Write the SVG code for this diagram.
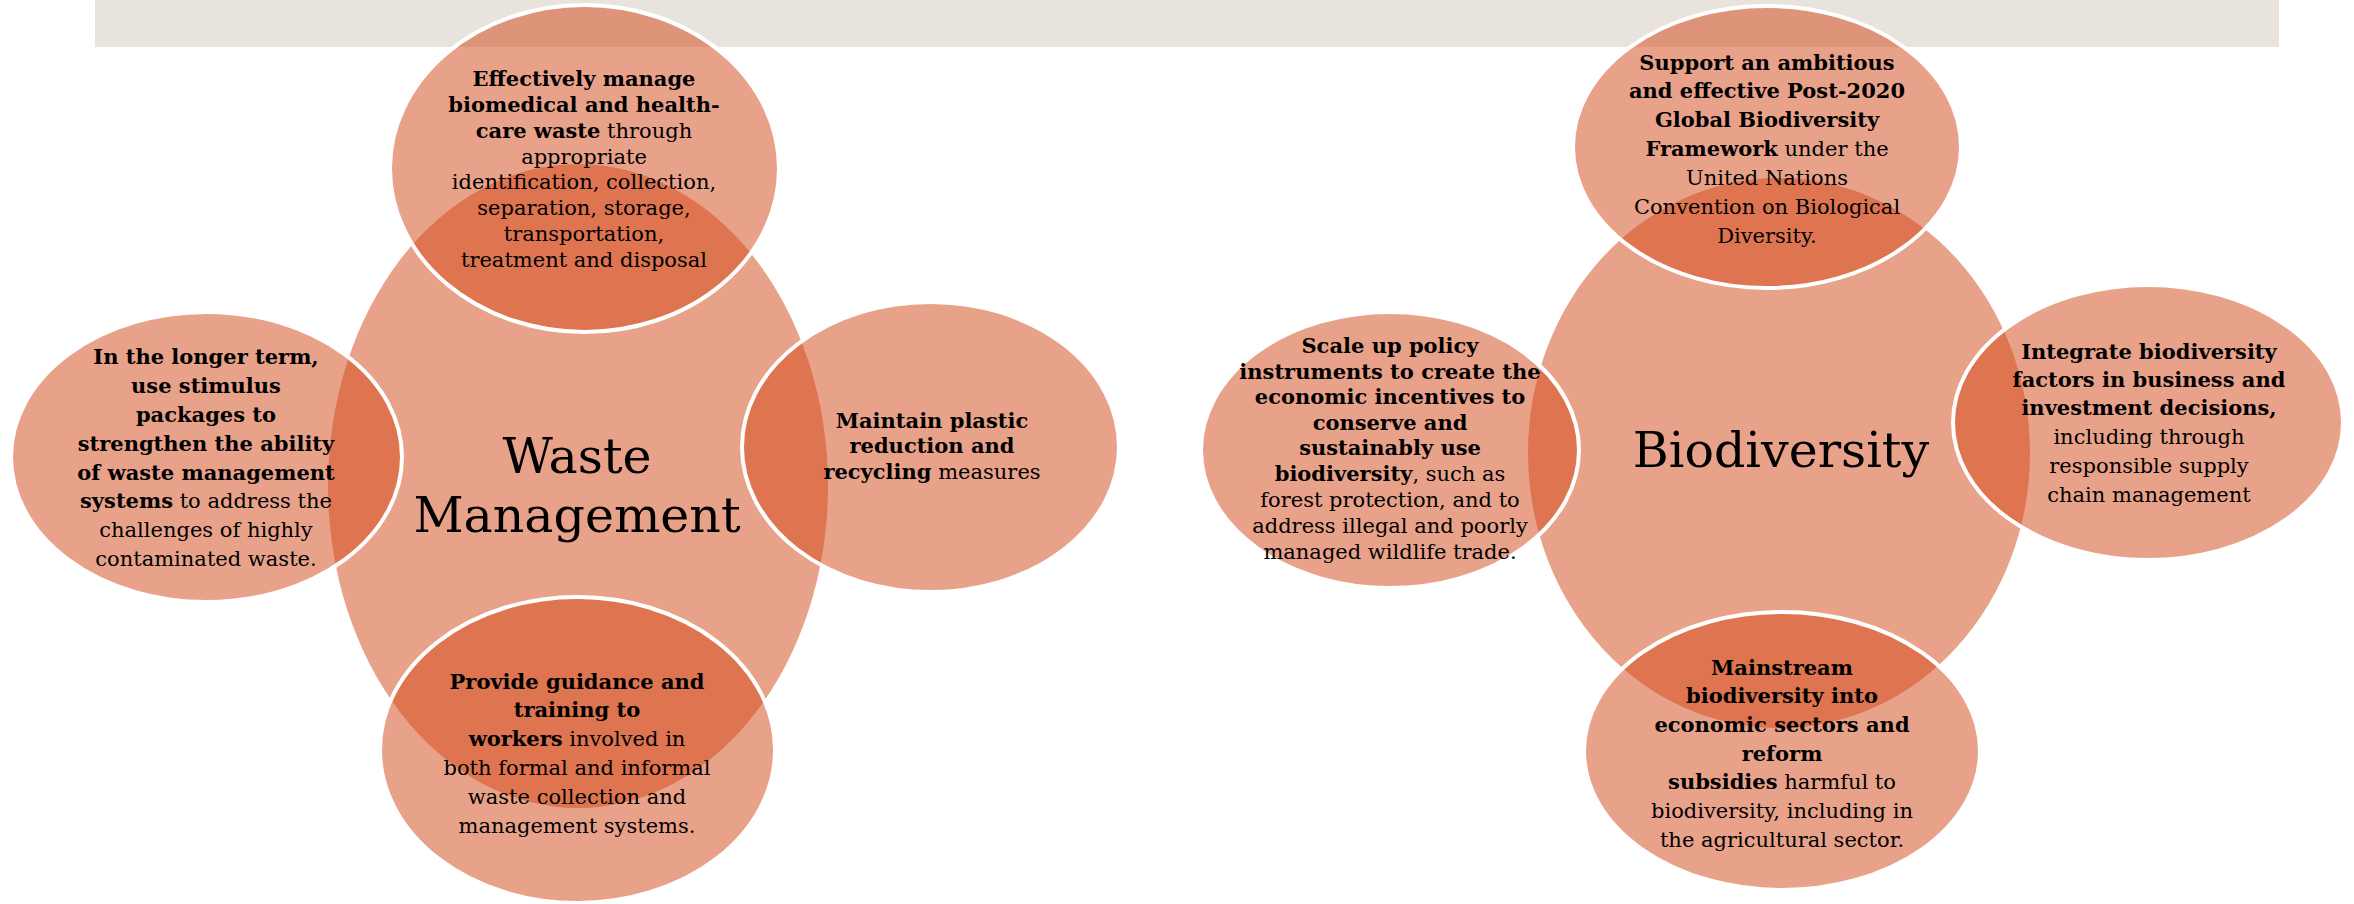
<svg xmlns="http://www.w3.org/2000/svg" width="2354" height="904" viewBox="0 0 2354 904">
<style>
.band{fill:#E8E3DC}
.hub{fill:#E9A28A}
.sat{fill:#D34515;fill-opacity:0.5;stroke:#FFFFFF;stroke-width:4}
.t{font-family:"DejaVu Serif","Liberation Serif",serif;font-size:21px;fill:#000;text-anchor:middle}
.b{font-weight:bold}
.title{font-family:"DejaVu Serif","Liberation Serif",serif;font-size:49px;fill:#000;text-anchor:middle}
</style>
<rect class="band" x="95" y="0" width="2184" height="47"/>
<g id="connectors"/>
<!-- Waste Management -->
<g id="waste-hub">
<ellipse class="hub" cx="578" cy="486" rx="250" ry="322"/>
<text class="title" x="577" y="473">Waste</text>
<text class="title" x="577" y="532">Management</text>
</g>
<g id="waste-top">
<ellipse class="sat" cx="584.5" cy="168.5" rx="194.5" ry="163.5"/>
<text class="t"><tspan class="b" x="584" y="86">Effectively manage</tspan><tspan class="b" x="584" y="112">biomedical and health-</tspan><tspan x="584" y="138"><tspan class="b">care waste</tspan> through</tspan><tspan x="584" y="164">appropriate</tspan><tspan x="584" y="189">identification, collection,</tspan><tspan x="584" y="215">separation, storage,</tspan><tspan x="584" y="241">transportation,</tspan><tspan x="584" y="267">treatment and disposal</tspan></text>
</g>
<g id="waste-left">
<ellipse class="sat" cx="206.5" cy="457" rx="195.5" ry="145"/>
<text class="t"><tspan class="b" x="206" y="364">In the longer term,</tspan><tspan class="b" x="206" y="393">use stimulus</tspan><tspan class="b" x="206" y="422">packages to</tspan><tspan class="b" x="206" y="451">strengthen the ability</tspan><tspan class="b" x="206" y="480">of waste management</tspan><tspan x="206" y="508"><tspan class="b">systems</tspan> to address the</tspan><tspan x="206" y="537">challenges of highly</tspan><tspan x="206" y="566">contaminated waste.</tspan></text>
</g>
<g id="waste-right">
<ellipse class="sat" cx="930.5" cy="447" rx="188.5" ry="145"/>
<text class="t"><tspan class="b" x="932" y="428">Maintain plastic</tspan><tspan class="b" x="932" y="453">reduction and</tspan><tspan x="932" y="479"><tspan class="b">recycling</tspan> measures</tspan></text>
</g>
<g id="waste-bottom">
<ellipse class="sat" cx="577.5" cy="750" rx="197.5" ry="153"/>
<text class="t"><tspan class="b" x="577" y="689">Provide guidance and</tspan><tspan class="b" x="577" y="717">training to</tspan><tspan x="577" y="746"><tspan class="b">workers</tspan> involved in</tspan><tspan x="577" y="775">both formal and informal</tspan><tspan x="577" y="804">waste collection and</tspan><tspan x="577" y="833">management systems.</tspan></text>
</g>
<!-- Biodiversity -->
<g id="bio-hub">
<ellipse class="hub" cx="1779" cy="453" rx="251" ry="275"/>
<text class="title" x="1781" y="467">Biodiversity</text>
</g>
<g id="bio-top">
<ellipse class="sat" cx="1767" cy="147" rx="194" ry="141"/>
<text class="t"><tspan class="b" x="1767" y="70">Support an ambitious</tspan><tspan class="b" x="1767" y="98">and effective Post-2020</tspan><tspan class="b" x="1767" y="127">Global Biodiversity</tspan><tspan x="1767" y="156"><tspan class="b">Framework</tspan> under the</tspan><tspan x="1767" y="185">United Nations</tspan><tspan x="1767" y="214">Convention on Biological</tspan><tspan x="1767" y="243">Diversity.</tspan></text>
</g>
<g id="bio-left">
<ellipse class="sat" cx="1390" cy="450" rx="189" ry="138"/>
<text class="t"><tspan class="b" x="1390" y="353">Scale up policy</tspan><tspan class="b" x="1390" y="379">instruments to create the</tspan><tspan class="b" x="1390" y="404">economic incentives to</tspan><tspan class="b" x="1390" y="430">conserve and</tspan><tspan class="b" x="1390" y="455">sustainably use</tspan><tspan x="1390" y="481"><tspan class="b">biodiversity</tspan>, such as</tspan><tspan x="1390" y="507">forest protection, and to</tspan><tspan x="1390" y="533">address illegal and poorly</tspan><tspan x="1390" y="559">managed wildlife trade.</tspan></text>
</g>
<g id="bio-right">
<ellipse class="sat" cx="2148" cy="422.5" rx="195" ry="137.5"/>
<text class="t"><tspan class="b" x="2149" y="359">Integrate biodiversity</tspan><tspan class="b" x="2149" y="387">factors in business and</tspan><tspan class="b" x="2149" y="415">investment decisions,</tspan><tspan x="2149" y="444">including through</tspan><tspan x="2149" y="473">responsible supply</tspan><tspan x="2149" y="502">chain management</tspan></text>
</g>
<g id="bio-bottom">
<ellipse class="sat" cx="1782" cy="751" rx="198" ry="139"/>
<text class="t"><tspan class="b" x="1782" y="675">Mainstream</tspan><tspan class="b" x="1782" y="703">biodiversity into</tspan><tspan class="b" x="1782" y="732">economic sectors and</tspan><tspan class="b" x="1782" y="761">reform</tspan><tspan x="1782" y="789"><tspan class="b">subsidies</tspan> harmful to</tspan><tspan x="1782" y="818">biodiversity, including in</tspan><tspan x="1782" y="847">the agricultural sector.</tspan></text>
</g>
</svg>
